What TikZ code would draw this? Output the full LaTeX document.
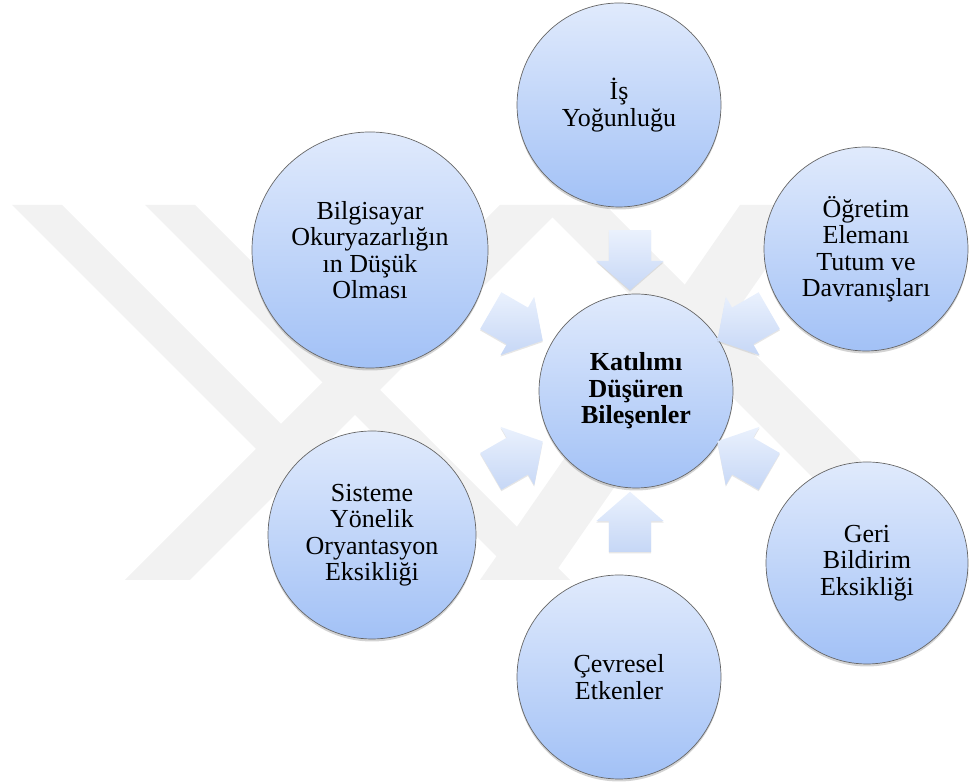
\documentclass[tikz,border=0pt]{standalone}
\usepackage{fontspec}
\setmainfont{Liberation Serif}
\usetikzlibrary{shapes.arrows,shadows,calc}
\definecolor{bubtop}{RGB}{224,234,252}
\definecolor{bubbot}{RGB}{162,193,246}
\definecolor{arrtop}{RGB}{234,241,253}
\definecolor{arrbot}{RGB}{198,215,246}
\definecolor{wmark}{RGB}{242,242,242}
\tikzset{%
    bub/.style={circle,draw=black!60,line width=0.7pt,top color=bubtop,bottom color=bubbot,
        align=center,inner sep=0pt,font=\fontsize{26}{26.5}\selectfont,
        drop shadow={shadow xshift=0pt,shadow yshift=-2.5pt,opacity=0.35}},
    blk/.style={single arrow,inner xsep=0pt,inner ysep=21pt,minimum height=60pt,
        single arrow head extend=12.5pt,single arrow tip angle=98,
        top color=arrtop,bottom color=arrbot,
        drop shadow={shadow xshift=0pt,shadow yshift=-1.5pt,opacity=0.2}}
}
\begin{document}
\begin{tikzpicture}[x=1pt,y=1pt]
            \useasboundingbox (0,0) rectangle (969,783);
            % watermark
            \begin{scope}
                \clip (0,203) rectangle (969,578);
                \fill[wmark] (12,578) -- (62,578) -- (437,203) -- (387,203) -- cycle;
                \fill[wmark] (145,578) -- (195,578) -- (570,203) -- (520,203) -- cycle;
                \fill[wmark] (500,578) -- (565,578) -- (190,203) -- (125,203) -- cycle;
                \fill[wmark] (740,578) -- (810,578) -- (550,203) -- (480,203) -- cycle;
                \fill[wmark] (540,578) -- (605,578) -- (980,203) -- (915,203) -- cycle;
            \end{scope}

            \node[bub,minimum size=194pt,font=\fontsize{26}{26.5}\selectfont\bfseries] (kat) at (636,392) {Katılımı\\Düşüren\\Bileşenler};
            \node[bub,minimum size=204pt] (is) at (619,678) {İş\\Yoğunluğu};
            \node[bub,minimum size=204pt] (ogr) at (866,534) {Öğretim\\Elemanı\\Tutum ve\\Davranışları};
            \node[bub,minimum size=202pt] (geri) at (867,220) {Geri\\Bildirim\\Eksikliği};
            \node[bub,minimum size=204pt] (cev) at (619,106) {Çevresel\\Etkenler};
            \node[bub,minimum size=208pt] (sis) at (372,248) {Sisteme\\Yönelik\\Oryantasyon\\Eksikliği};
            \node[bub,minimum size=236pt] (bil) at (370,533) {Bilgisayar\\Okuryazarlığın\\ın Düşük\\Olması};

            \coordinate (hub) at ($(kat)+(-6,0)$);
            \foreach \a/\n in {90/is,30/ogr,-30/geri,-90/cev,-150/sis,150/bil}
                \node[blk,rotate=\a+180] (to\n) at ($(hub)+(\a:140)$) {};
        \end{tikzpicture}
\end{document}
